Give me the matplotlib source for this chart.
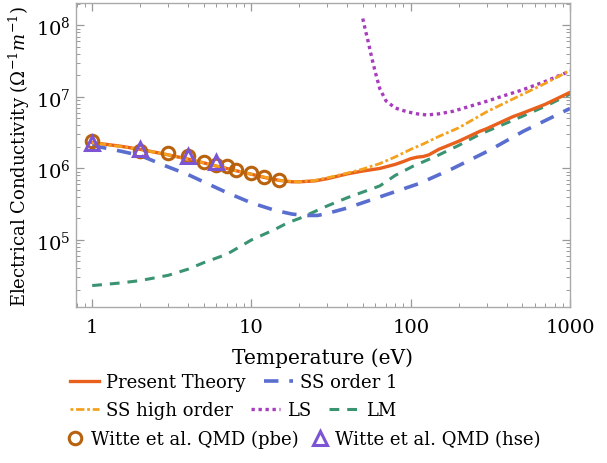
import matplotlib
matplotlib.use('Agg')
import matplotlib.pyplot as plt
import matplotlib.ticker as mticker

plt.rcParams['font.family'] = 'DejaVu Serif'
plt.rcParams['mathtext.fontset'] = 'dejavuserif'

# conductivity curves (Ohm^-1 m^-1) vs temperature (eV)
T_present = [1, 1.5, 2, 3, 4, 5, 6, 7, 8, 10, 12, 15, 18, 20, 25, 30, 40, 50, 64, 80, 90,
             100, 110, 120, 130, 150, 200, 271, 300, 438, 500, 700, 1000]
sig_present = [2.3e6, 2.05e6, 1.85e6, 1.55e6, 1.35e6, 1.2e6, 1.08e6, 1.0e6, 0.93e6, 0.83e6,
               0.75e6, 0.68e6, 0.65e6, 0.65e6, 0.67e6, 0.72e6, 0.84e6, 0.92e6, 1.0e6, 1.14e6,
               1.25e6, 1.37e6, 1.44e6, 1.47e6, 1.55e6, 1.85e6, 2.4e6, 3.3e6, 3.6e6, 5.3e6,
               5.9e6, 7.9e6, 1.16e7]

T_ss1 = [1, 1.5, 2, 3, 4, 5, 7, 10, 14, 18, 22, 26, 30, 40, 64, 114, 184, 313, 508, 1000]
sig_ss1 = [2.1e6, 1.75e6, 1.52e6, 1.05e6, 0.82e6, 0.65e6, 0.46e6, 0.33e6, 0.26e6, 0.23e6,
           0.22e6, 0.22e6, 0.235e6, 0.28e6, 0.4e6, 0.62e6, 1.0e6, 1.8e6, 3.3e6, 6.9e6]

T_sshigh = [1, 2, 3, 5, 7, 10, 15, 20, 25, 30, 40, 50, 64, 80, 100, 120, 150, 200, 300, 500,
            700, 1000]
sig_sshigh = [2.3e6, 1.85e6, 1.55e6, 1.2e6, 1.0e6, 0.83e6, 0.68e6, 0.65e6, 0.68e6, 0.74e6,
              0.86e6, 0.98e6, 1.17e6, 1.45e6, 1.85e6, 2.2e6, 2.8e6, 3.7e6, 6.2e6, 1.08e7,
              1.55e7, 2.35e7]

T_ls = [50, 52, 54, 57, 60, 64, 70, 80, 95, 110, 126, 150, 184, 230, 300, 400, 500, 700, 1000]
sig_ls = [1.25e8, 8.5e7, 6e7, 3.5e7, 2.2e7, 1.3e7, 8.8e6, 7.0e6, 6.2e6, 5.8e6, 5.6e6, 5.8e6,
          6.3e6, 7.3e6, 8.7e6, 1.07e7, 1.25e7, 1.65e7, 2.3e7]

T_lm = [1, 1.5, 2, 3, 4, 5, 7, 10, 14, 17, 20, 24, 30, 40, 64, 80, 103, 146, 200, 271, 438,
        718, 1000]
sig_lm = [2.3e4, 2.5e4, 2.7e4, 3.2e4, 3.9e4, 4.8e4, 6.3e4, 1.0e5, 1.4e5, 1.75e5, 2.0e5, 2.4e5,
          3.0e5, 3.9e5, 5.7e5, 8.0e5, 1.07e6, 1.5e6, 2.1e6, 3.0e6, 4.7e6, 7.6e6, 1.1e7]

# Witte et al. QMD points
T_pbe = [1, 2, 3, 4, 5, 6, 7, 8, 10, 12, 15]
sig_pbe = [2.39e6, 1.78e6, 1.67e6, 1.47e6, 1.25e6, 1.1e6, 1.07e6, 0.94e6, 0.85e6, 0.75e6, 0.68e6]
T_hse = [1, 2, 4, 6]
sig_hse = [2.3e6, 1.85e6, 1.5e6, 1.25e6]

c_present = '#E8601C'
c_ss1 = '#5A6ECF'
c_sshigh = '#F4A21E'
c_ls = '#A83CBD'
c_lm = '#3A9472'
c_pbe = '#B8620E'
c_hse = '#7B55D3'

fig = plt.figure(figsize=(6.07, 4.64), dpi=100)
ax = fig.add_axes([0.125, 0.336, 0.814, 0.655])

l_lm, = ax.plot(T_lm, sig_lm, color=c_lm, lw=2.2, dashes=(3.2, 2.6))
l_ss1, = ax.plot(T_ss1, sig_ss1, color=c_ss1, lw=2.6, dashes=(4, 3))
l_ls, = ax.plot(T_ls, sig_ls, color=c_ls, lw=2.4, dashes=(1, 1.1))
l_present, = ax.plot(T_present, sig_present, color=c_present, lw=2.4)
l_sshigh, = ax.plot(T_sshigh, sig_sshigh, color=c_sshigh, lw=2.0, dashes=(1, 1, 3, 1))
p_pbe, = ax.plot(T_pbe, sig_pbe, 'o', ms=9, mfc='none', mec=c_pbe, mew=2.2, ls='none')
p_hse, = ax.plot(T_hse, sig_hse, '^', ms=10, mfc='none', mec=c_hse, mew=2.2, ls='none')

ax.set_xscale('log')
ax.set_yscale('log')
ax.set_xlim(0.79, 1000)
ax.set_ylim(1.15e4, 2.05e8)

ax.xaxis.set_major_locator(mticker.FixedLocator([1, 10, 100, 1000]))
ax.xaxis.set_major_formatter(mticker.FixedFormatter(['1', '10', '100', '1000']))
ax.xaxis.set_minor_locator(mticker.LogLocator(base=10, subs=range(2, 10)))
ax.xaxis.set_minor_formatter(mticker.NullFormatter())
ax.yaxis.set_major_locator(mticker.FixedLocator([1e5, 1e6, 1e7, 1e8]))
ax.yaxis.set_major_formatter(mticker.FixedFormatter(['$10^5$', '$10^6$', '$10^7$', '$10^8$']))
ax.yaxis.set_minor_locator(mticker.LogLocator(base=10, subs=range(2, 10)))
ax.yaxis.set_minor_formatter(mticker.NullFormatter())

for s in ax.spines.values():
    s.set_color('#aaaaaa')
    s.set_linewidth(1.0)
ax.tick_params(which='both', direction='in', top=True, right=True, colors='#999999',
               labelcolor='black', labelsize=14)
ax.tick_params(which='major', length=6, width=0.9)
ax.tick_params(which='minor', length=3, width=0.7)
ax.tick_params(axis='x', pad=8)

ax.set_xlabel('Temperature (eV)', fontsize=14.5, labelpad=8)
ax.set_ylabel(r'Electrical Conductivity ($\Omega^{-1}m^{-1}$)', fontsize=13)
ax.yaxis.set_label_coords(-0.088, 0.5)

# three legend rows below the axes
kw = dict(frameon=False, fontsize=13, handlelength=1.6, handletextpad=0.4,
          columnspacing=1.0, borderpad=0, borderaxespad=0, loc='center left')
x0 = 70 / 607
fig.legend([l_present, l_ss1], ['Present Theory', 'SS order 1'], ncol=2,
           bbox_to_anchor=(x0, 1 - 383 / 464), **kw)
fig.legend([l_sshigh, l_ls, l_lm], ['SS high order', 'LS', 'LM'], ncol=3,
           bbox_to_anchor=(x0, 1 - 411 / 464), **kw)
kw3 = dict(kw, handlelength=0.6, handletextpad=0.55, columnspacing=0.9)
fig.legend([p_pbe, p_hse], ['Witte et al. QMD (pbe)', 'Witte et al. QMD (hse)'], ncol=2,
           bbox_to_anchor=(x0, 1 - 440 / 464), **kw3)

fig.savefig('out.png', dpi=100)
